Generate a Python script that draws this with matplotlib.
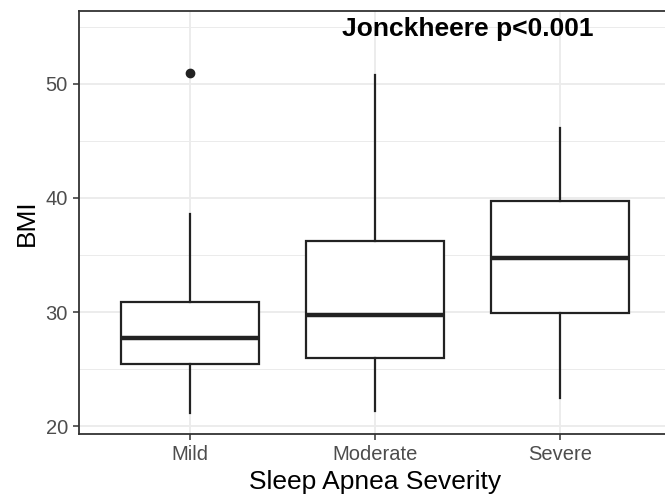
import matplotlib.pyplot as plt
from matplotlib.ticker import MultipleLocator

# BMI box statistics by sleep apnea severity
categories = ['Mild', 'Moderate', 'Severe']
whisker_low = [21.1, 21.3, 22.5]
q1 = [25.4, 26.0, 29.9]
median = [27.7, 29.7, 34.7]
q3 = [30.9, 36.2, 39.7]
whisker_high = [38.6, 50.8, 46.1]
outliers = [[51.0], [], []]

stats = []
for i, name in enumerate(categories):
    stats.append({'label': name, 'whislo': whisker_low[i], 'q1': q1[i],
                  'med': median[i], 'q3': q3[i], 'whishi': whisker_high[i],
                  'fliers': outliers[i]})

plt.rcParams['font.family'] = ['Liberation Sans', 'DejaVu Sans']

fig = plt.figure(figsize=(6.65, 4.98), dpi=100)
ax = fig.add_axes([79 / 665, 1 - 434 / 498, (671 - 79) / 665, (434 - 11) / 498])

ax.bxp(stats, positions=[1, 2, 3], widths=0.75, showcaps=False, patch_artist=True,
       boxprops=dict(facecolor='white', edgecolor='#222222', linewidth=1.6),
       medianprops=dict(color='#222222', linewidth=3.2, solid_capstyle='butt'),
       whiskerprops=dict(color='#222222', linewidth=1.6),
       flierprops=dict(marker='o', markerfacecolor='#222222', markeredgecolor='#222222',
                       markersize=6), zorder=3)

ax.set_xlim(0.4, 3.6)
ax.set_ylim(19.3, 56.4)
ax.yaxis.set_major_locator(MultipleLocator(10))
ax.yaxis.set_minor_locator(MultipleLocator(5))
ax.set_xticks([1, 2, 3])
ax.set_xticklabels(categories)

ax.grid(which='major', color='#EBEBEB', linewidth=1.3, zorder=0)
ax.grid(which='minor', axis='y', color='#EBEBEB', linewidth=0.7, zorder=0)
ax.set_axisbelow(True)
ax.tick_params(which='major', length=4, width=1.1, color='#333333', labelsize=14.5,
               labelcolor='#4D4D4D', pad=4)
ax.tick_params(which='minor', length=0)
for s in ax.spines.values():
    s.set_color('#333333')
    s.set_linewidth(1.3)

ax.set_xlabel('Sleep Apnea Severity', fontsize=19, color='black', labelpad=4)
ax.set_ylabel('BMI', fontsize=19, color='black', labelpad=5)

ax.text(2.5, 54.8, 'Jonckheere p<0.001', ha='center', va='center',
        fontsize=19, fontweight='bold', color='black')

fig.savefig('out.png', dpi=100)
